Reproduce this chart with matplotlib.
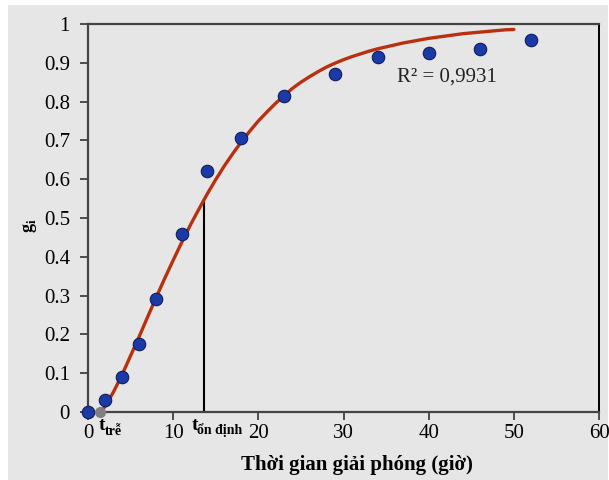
"""
Đường cong giải phóng g_i theo thời gian
"""

import matplotlib.pyplot as plt
from matplotlib.patches import Rectangle

# dữ liệu thực nghiệm
t_exp = [0, 2, 4, 6, 8, 11, 14, 18, 23, 29, 34, 40, 46, 52]
g_exp = [0.0, 0.03, 0.09, 0.175, 0.29, 0.46, 0.62, 0.705, 0.815, 0.87, 0.915, 0.925, 0.935, 0.96]

# đường cong lý thuyết
t_fit = [1.4, 2, 3, 4, 5, 6, 7, 8, 9, 10, 11, 12, 13, 13.6, 14, 15, 16, 17, 18, 19, 20,
         21, 22, 23, 24, 25, 26, 27, 28, 29, 30, 31, 32, 33, 34, 35, 36, 37, 38, 39, 40,
         41, 42, 43, 44, 45, 46, 47, 48, 49, 50]
g_fit = [0.0, 0.014, 0.052, 0.096, 0.145, 0.194, 0.245, 0.295, 0.344, 0.391, 0.437, 0.481,
         0.522, 0.546, 0.562, 0.599, 0.634, 0.666, 0.696, 0.724, 0.75,
         0.773, 0.795, 0.815, 0.834, 0.85, 0.864, 0.877, 0.889, 0.899, 0.908, 0.916, 0.923,
         0.93, 0.936, 0.941, 0.946, 0.951, 0.955, 0.959, 0.963,
         0.966, 0.969, 0.972, 0.975, 0.977, 0.979, 0.981, 0.983, 0.985, 0.986]

t_tre = 1.4
t_on_dinh = 13.6
g_on_dinh = 0.546

xticks = [0, 10, 20, 30, 40, 50, 60]
yticks = [0, 0.1, 0.2, 0.3, 0.4, 0.5, 0.6, 0.7, 0.8, 0.9, 1]
ytick_labels = ['0', '0.1', '0.2', '0.3', '0.4', '0.5', '0.6', '0.7', '0.8', '0.9', '1']

plt.rcParams['font.family'] = ['Liberation Serif', 'DejaVu Serif']
bg = '#e6e6e6'

fig = plt.figure(figsize=(6.09, 4.8), dpi=100)
fig.patch.set_facecolor('white')
fig.patches.append(Rectangle((8 / 609, 0), 1 - 9 / 609, 1 - 5 / 480, transform=fig.transFigure,
                             facecolor=bg, edgecolor='none', zorder=-10))

ax = fig.add_axes([88 / 609, 1 - 412 / 480, (599 - 88) / 609, (412 - 24) / 480])
ax.set_facecolor(bg)

ax.plot(t_fit, g_fit, color='#b8300f', lw=2.4, solid_capstyle='round', zorder=3)
ax.plot(t_exp, g_exp, 'o', ms=9, markerfacecolor='#1c3aa6', markeredgecolor='#0d1f5c',
        markeredgewidth=0.8, zorder=4, clip_on=False)
ax.plot([t_tre], [0], 'o', ms=7, color='#808080', zorder=5, clip_on=False)
ax.plot([t_on_dinh, t_on_dinh], [0, g_on_dinh], color='black', lw=1.5, zorder=2)

ax.text(36.3, 0.863, 'R² = 0,9931', fontsize=15, va='center', ha='left', color='#222222')

ax.set_xlim(0, 60)
ax.set_ylim(0, 1)
ax.set_xticks(xticks)
ax.set_yticks(yticks)
ax.set_yticklabels(ytick_labels)
ax.tick_params(axis='both', direction='out', length=6, width=1.2, colors='#333333',
               labelsize=15, labelcolor='black')
ax.tick_params(axis='x', pad=3)
ax.tick_params(axis='y', pad=7)

for side in ['left', 'bottom', 'top']:
    ax.spines[side].set_color('#444444')
    ax.spines[side].set_linewidth(1.6)
ax.spines['right'].set_color('black')
ax.spines['right'].set_linewidth(1.4)

ax.set_xlabel('Thời gian giải phóng (giờ)', fontsize=15, fontweight='bold')
ax.xaxis.set_label_coords(0.527, -0.111)
ax.set_ylabel('g$_\\mathregular{i}$', fontsize=13, fontweight='bold')
ax.yaxis.set_label_coords(-0.095, 0.48)

# nhãn t_trễ và t_ổn định
ax.annotate('t', (t_tre, 0), xytext=(-1, -10), textcoords='offset points',
            fontsize=14, fontweight='bold', ha='left', va='center', annotation_clip=False)
ax.annotate('trễ', (t_tre, 0), xytext=(3.5, -14), textcoords='offset points',
            fontsize=10, fontweight='bold', ha='left', va='center', annotation_clip=False)
ax.annotate('t', (t_on_dinh, 0), xytext=(-8.6, -9.5), textcoords='offset points',
            fontsize=14, fontweight='bold', ha='left', va='center', annotation_clip=False)
ax.annotate('ổn định', (t_on_dinh, 0), xytext=(-5, -13), textcoords='offset points',
            fontsize=10, fontweight='bold', ha='left', va='center', annotation_clip=False)

fig.savefig('out.png', dpi=100, facecolor=fig.get_facecolor())
